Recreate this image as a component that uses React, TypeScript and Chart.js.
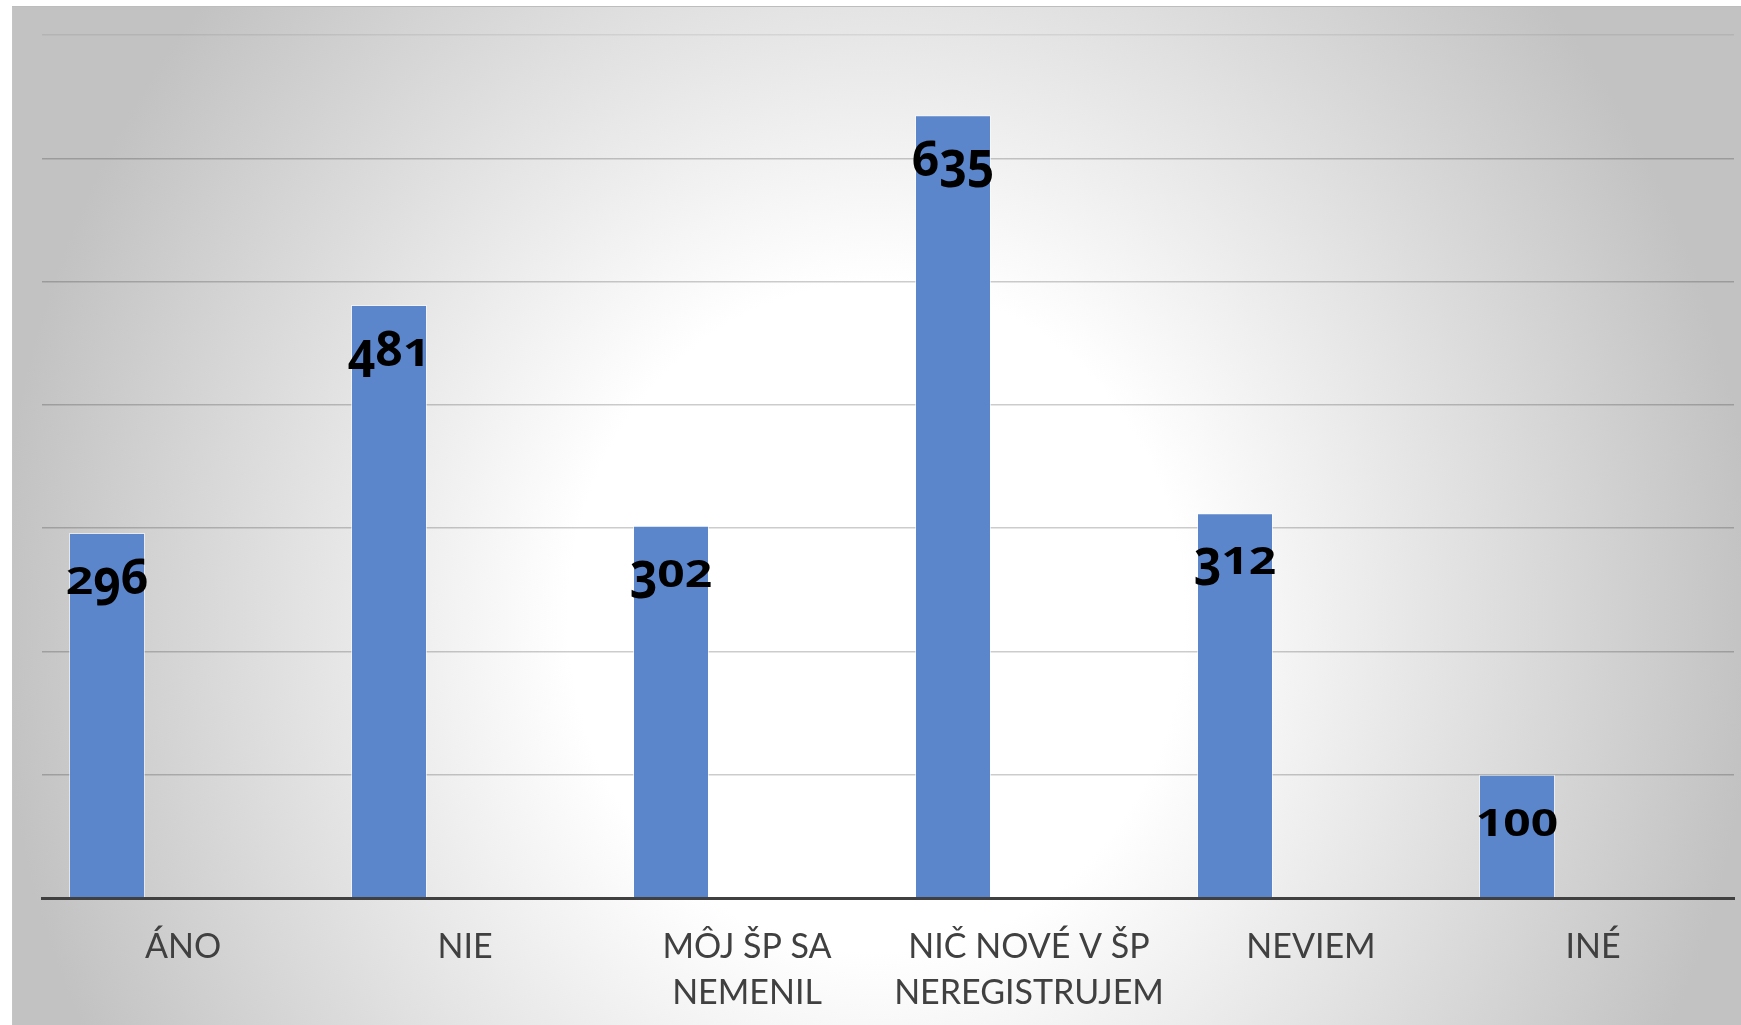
import React, { useEffect, useRef } from "react";
import { Chart, registerables } from "chart.js";

Chart.register(...registerables);

// ---- data ----
const categories: (string | string[])[] = [
  "ÁNO",
  "NIE",
  ["MÔJ ŠP SA", "NEMENIL"],
  ["NIČ NOVÉ V ŠP", "NEREGISTRUJEM"],
  "NEVIEM",
  "INÉ",
];
const values: number[] = [296, 481, 302, 635, 312, 100];
const emptySeries: (number | null)[] = [null, null, null, null, null, null];
const yMin = 0;
const yMax = 700;
const yStep = 100;

// old-style figure imitation: vertical scale and baseline shift per digit
const digitStyle: Record<string, { sy: number; dy: number }> = {
  "0": { sy: 0.77, dy: 0 },
  "1": { sy: 0.79, dy: 0 },
  "2": { sy: 0.77, dy: 0 },
  "3": { sy: 1.1, dy: 11 },
  "4": { sy: 1.1, dy: 11 },
  "5": { sy: 1.1, dy: 11 },
  "6": { sy: 1, dy: 0 },
  "7": { sy: 1.1, dy: 11 },
  "8": { sy: 1, dy: 0 },
  "9": { sy: 1.1, dy: 11 },
};

const valueLabelPlugin = {
  id: "valueLabels",
  afterDatasetsDraw(chart: any) {
    const meta = chart.getDatasetMeta(0);
    const ctx: CanvasRenderingContext2D = chart.ctx;
    ctx.save();
    ctx.font = '700 48px "Open Sans"';
    ctx.fillStyle = "#000000";
    ctx.textAlign = "left";
    ctx.textBaseline = "alphabetic";
    meta.data.forEach((bar: any, i: number) => {
      const text = String(values[i]);
      const widths = text.split("").map((c) => ctx.measureText(c).width);
      const total = widths.reduce((a, b) => a + b, 0);
      let x = bar.x - total / 2;
      const baseline = bar.y + 61;
      text.split("").forEach((c, k) => {
        const st = digitStyle[c] || { sy: 1, dy: 0 };
        ctx.save();
        ctx.translate(x, baseline + st.dy);
        ctx.scale(1, st.sy);
        ctx.fillText(c, 0, 0);
        ctx.restore();
        x += widths[k];
      });
    });
    ctx.restore();
  },
};

function App() {
  const canvasRef = useRef<HTMLCanvasElement | null>(null);

  useEffect(() => {
    let chart: Chart | null = null;
    let cancelled = false;
    const make = () => {
      if (cancelled || !canvasRef.current) return;
      chart = new Chart(canvasRef.current, {
        type: "bar",
        data: {
          labels: categories as any,
          datasets: [
            {
              data: values,
              backgroundColor: "#5b86cc",
              borderColor: "rgba(255,255,255,0.55)",
              borderWidth: 1,
              categoryPercentage: 0.8085,
              barPercentage: 1,
            },
            {
              data: emptySeries as any,
              backgroundColor: "#ed7d31",
              categoryPercentage: 0.8085,
              barPercentage: 1,
            },
            {
              data: emptySeries as any,
              backgroundColor: "#a5a5a5",
              categoryPercentage: 0.8085,
              barPercentage: 1,
            },
          ],
        },
        options: {
          animation: false,
          responsive: true,
          maintainAspectRatio: false,
          layout: { padding: { left: 30, right: 7, top: 29, bottom: 0 } },
          plugins: {
            legend: { display: false },
            tooltip: { enabled: false },
          },
          scales: {
            x: {
              grid: { display: false, drawTicks: false },
              border: { display: true, color: "#404040", width: 3, z: 1 },
              ticks: {
                color: "#404040",
                font: { family: "Lato", size: 34, lineHeight: 1.35 },
                padding: 26,
                maxRotation: 0,
                autoSkip: false,
              },
              afterFit: (s: any) => {
                s.height = 127;
              },
            },
            y: {
              min: yMin,
              max: yMax,
              ticks: { display: false, stepSize: yStep },
              border: { display: false },
              grid: {
                drawTicks: false,
                lineWidth: 1.5,
                color: (c: any) =>
                  c.tick && c.tick.value === yMax
                    ? "rgba(0,0,0,0.07)"
                    : "rgba(0,0,0,0.2)",
              },
              afterFit: (s: any) => {
                s.width = 0;
              },
            },
          },
        },
        plugins: [valueLabelPlugin],
      });
    };
    const fontsReady = (document as any).fonts
      ? Promise.all([
          (document as any).fonts.load('700 48px "Open Sans"'),
          (document as any).fonts.load('34px "Lato"'),
        ]).catch(() => null)
      : Promise.resolve(null);
    fontsReady.then(make);
    return () => {
      cancelled = true;
      if (chart) chart.destroy();
    };
  }, []);

  return (
    <div
      style={{
        position: "fixed",
        left: 12,
        top: 6,
        width: 1729,
        height: 1019,
        background:
          "radial-gradient(880px 955px at 50% 60%, #ffffff 0%, #ffffff 35%, #c2c2c2 100%)",
        boxShadow: "inset 0 1px 0 #bdbdbd, inset 1px 0 0 #c4c4c4",
      }}
    >
      <canvas ref={canvasRef} style={{ width: "100%", height: "100%" }} />
    </div>
  );
}

export default App;
